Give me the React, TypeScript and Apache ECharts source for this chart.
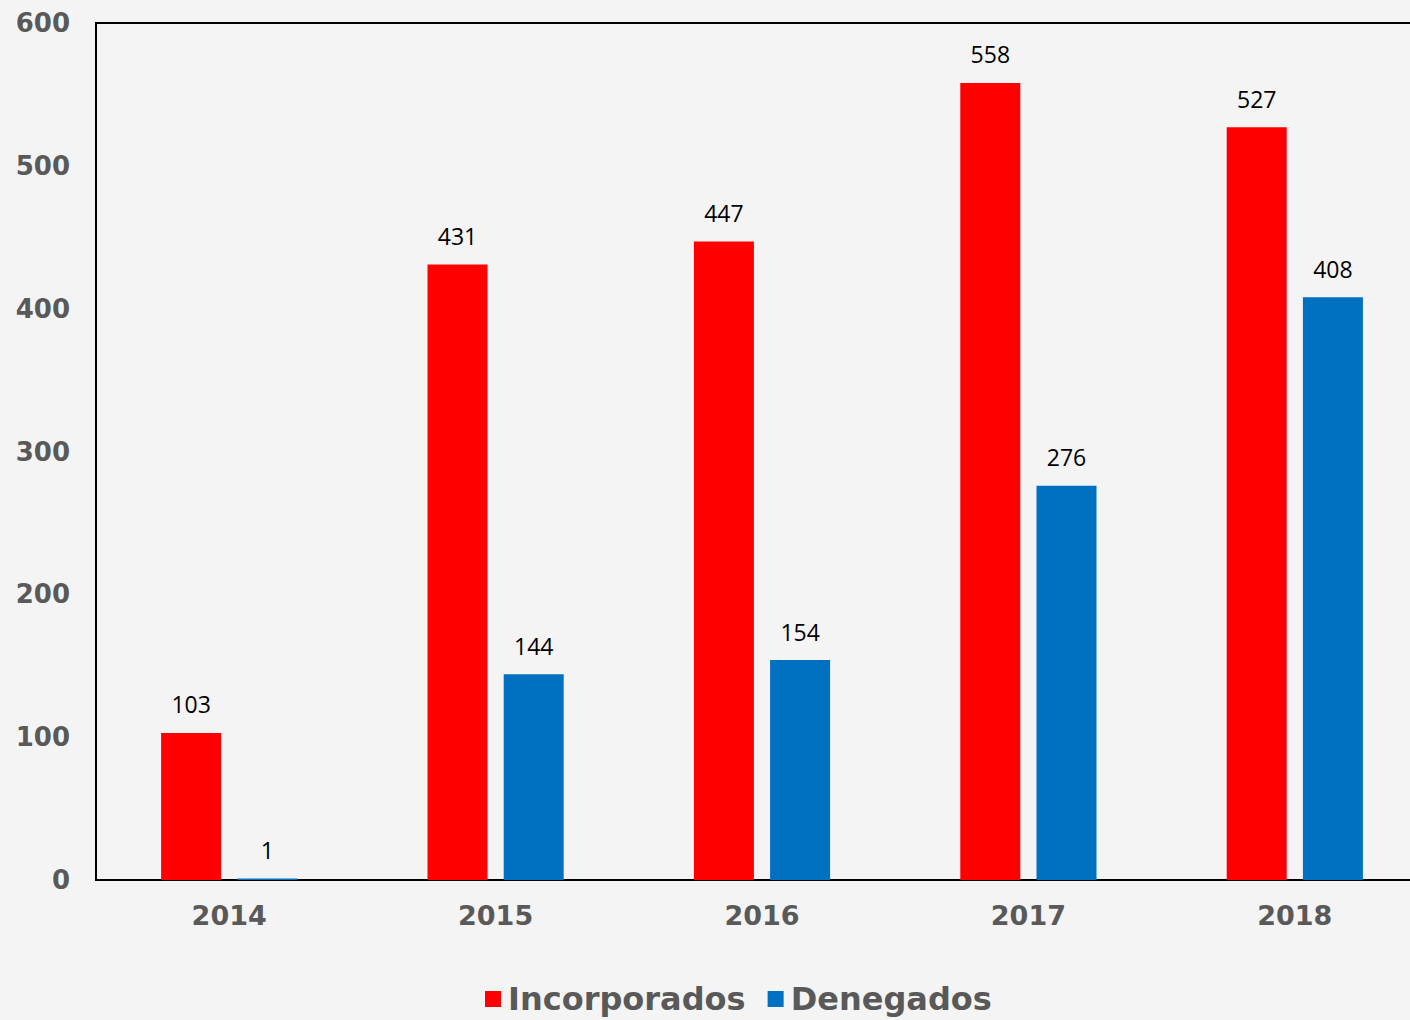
import React, { useEffect, useRef } from "react";
import * as echarts from "echarts";

const categories = ["2014", "2015", "2016", "2017", "2018"];
const incorporados = [103, 431, 447, 558, 527];
const denegados = [1, 144, 154, 276, 408];
const seriesNames = ["Incorporados", "Denegados"];

export default function App() {
  const ref = useRef<HTMLDivElement>(null);
  useEffect(() => {
    if (!ref.current) return;
    const chart = echarts.init(ref.current, null, { renderer: "svg" });
    const labelStyle = {
      show: true,
      position: "top" as const,
      distance: 17,
      color: "#000",
      fontFamily: "Open Sans",
      fontSize: 23,
    };
    chart.setOption({
      animation: false,
      backgroundColor: "#f4f4f4",
      grid: {
        left: 96,
        right: 0,
        top: 23,
        bottom: 140,
        show: true,
        borderColor: "#000",
        borderWidth: 2,
        backgroundColor: "transparent",
      },
      legend: {
        bottom: 0,
        left: 480,
        itemWidth: 16,
        itemHeight: 16,
        itemGap: 22,
        icon: "rect",
        textStyle: {
          color: "#595959",
          fontFamily: "DejaVu Sans",
          fontWeight: "bold",
          fontSize: 32,
          padding: [0, 0, 0, 2],
        },
        data: seriesNames,
      },
      xAxis: {
        type: "category",
        data: categories,
        axisLine: { show: true, lineStyle: { color: "#000", width: 2 } },
        axisTick: { show: false },
        axisLabel: {
          color: "#595959",
          fontFamily: "DejaVu Sans",
          fontWeight: "bold",
          fontSize: 27,
          margin: 22,
        },
      },
      yAxis: {
        type: "value",
        min: 0,
        max: 600,
        interval: 100,
        splitLine: { show: false },
        axisLine: { show: true, lineStyle: { color: "#000", width: 2 } },
        axisTick: { show: false },
        axisLabel: {
          color: "#595959",
          fontFamily: "DejaVu Sans",
          fontWeight: "bold",
          fontSize: 26,
          margin: 26,
        },
      },
      series: [
        {
          name: seriesNames[0],
          type: "bar",
          data: incorporados,
          barWidth: 60,
          barGap: "27%",
          itemStyle: { color: "#ff0000" },
          label: labelStyle,
        },
        {
          name: seriesNames[1],
          type: "bar",
          data: denegados,
          barWidth: 60,
          itemStyle: { color: "#0070c0" },
          label: labelStyle,
        },
      ],
    });
    return () => chart.dispose();
  }, []);
  return (
    <div style={{ position: "absolute", left: 0, top: 0, width: 1410, height: 1020, overflow: "hidden" }}>
      <div ref={ref} style={{ width: 1428, height: 1020 }} />
    </div>
  );
}
